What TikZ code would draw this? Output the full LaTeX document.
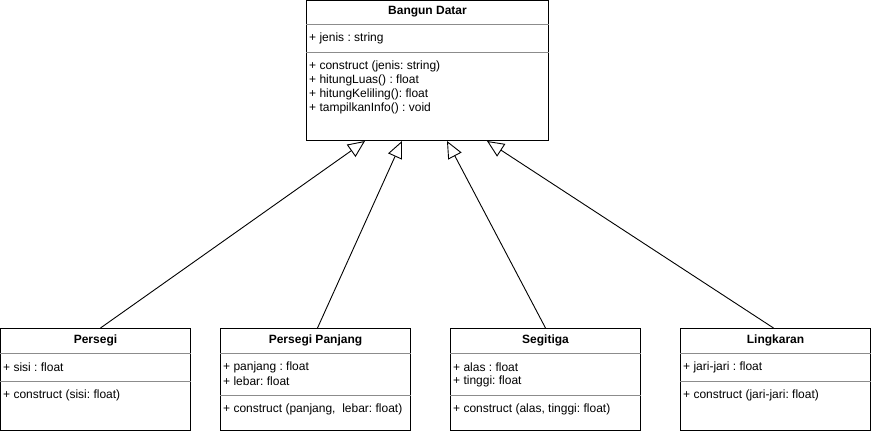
\documentclass[tikz,border=0pt]{standalone}
\usepackage{fontspec}
\setmainfont{Liberation Sans}
\usetikzlibrary{positioning}
\usetikzlibrary{arrows.meta}
\usetikzlibrary{calc}
\frenchspacing

\tikzset{
	classbox/.style={draw, line width=1pt, minimum width=190, minimum height=102, inner sep=0},
	title/.style={font=\fontsize{12}{14}\selectfont\bfseries, inner sep=0},
	member/.style={anchor=west, inner sep=0},
	divider/.style={draw=black!45, line width=1pt},
	inherit/.style={line width=.9pt, -{Triangle[open, length=17pt, width=15pt]}}
}

\begin{document}
\begin{tikzpicture}[x=1pt,y=-1pt,font=\fontsize{12}{14}\selectfont]
	\useasboundingbox (0,0) rectangle (871,431);
	%% kelas induk
	\node[classbox, anchor=north west, minimum width=242, minimum height=140] (bd) at (306,0) {};
	\node[title] (bdT) at ($(bd.north)+(0,12)$) {Bangun Datar};
	\draw[divider] ($(bd.north west)+(0,24)$) -- ($(bd.north east)+(0,24)$);
	\node[member] (bdA) at ($(bd.north west)+(3,38)$) {+ jenis : string};
	\draw[divider] ($(bd.north west)+(0,52)$) -- ($(bd.north east)+(0,52)$);
	\node[member] (bdM1) at ($(bd.north west)+(3,66)$) {+ construct (jenis: string)};
	\node[member] (bdM2) at ($(bd.north west)+(3,80)$) {+ hitungLuas() : float};
	\node[member] (bdM3) at ($(bd.north west)+(3,94)$) {+ hitungKeliling(): float};
	\node[member] (bdM4) at ($(bd.north west)+(3,108)$) {+ tampilkanInfo() : void};
	\coordinate (bd1) at ($(bd.south west)+(59,0)$);
	\coordinate (bd2) at ($(bd.south west)+(96,0)$);
	\coordinate (bd3) at ($(bd.south west)+(141,0)$);
	\coordinate (bd4) at ($(bd.south west)+(181,0)$);

	%% kelas turunan
	\node[classbox, anchor=north west] (ps) at (0,328) {};
	\node[classbox, right=29 of ps] (pp) {};
	\node[classbox, right=39 of pp] (sg) {};
	\node[classbox, right=39 of sg] (lk) {};

	% persegi
	\node[title] (psT) at ($(ps.north)+(0,12)$) {Persegi};
	\draw[divider] ($(ps.north west)+(0,25)$) -- ($(ps.north east)+(0,25)$);
	\node[member] (psA) at ($(ps.north west)+(3,39)$) {+ sisi : float};
	\draw[divider] ($(ps.north west)+(0,53)$) -- ($(ps.north east)+(0,53)$);
	\node[member] (psM) at ($(ps.north west)+(3,67)$) {+ construct (sisi: float)};

	% persegi panjang
	\node[title] (ppT) at ($(pp.north)+(0,12)$) {Persegi Panjang};
	\draw[divider] ($(pp.north west)+(0,25)$) -- ($(pp.north east)+(0,25)$);
	\node[member] (ppA1) at ($(pp.north west)+(3,39)$) {+ panjang : float};
	\node[member] (ppA2) at ($(pp.north west)+(3,53)$) {+ lebar: float};
	\draw[divider] ($(pp.north west)+(0,67)$) -- ($(pp.north east)+(0,67)$);
	\node[member] (ppM) at ($(pp.north west)+(3,81)$) {+ construct (panjang,~ lebar: float)};

	% segitiga
	\node[title] (sgT) at ($(sg.north)+(0,12)$) {Segitiga};
	\draw[divider] ($(sg.north west)+(0,25)$) -- ($(sg.north east)+(0,25)$);
	\node[member] (sgA1) at ($(sg.north west)+(3,39)$) {+ alas : float};
	\node[member] (sgA2) at ($(sg.north west)+(3,53)$) {+ tinggi: float};
	\draw[divider] ($(sg.north west)+(0,67)$) -- ($(sg.north east)+(0,67)$);
	\node[member] (sgM) at ($(sg.north west)+(3,81)$) {+ construct (alas, tinggi: float)};

	% lingkaran
	\node[title] (lkT) at ($(lk.north)+(0,12)$) {Lingkaran};
	\draw[divider] ($(lk.north west)+(0,25)$) -- ($(lk.north east)+(0,25)$);
	\node[member] (lkA) at ($(lk.north west)+(3,39)$) {+ jari-jari : float};
	\draw[divider] ($(lk.north west)+(0,53)$) -- ($(lk.north east)+(0,53)$);
	\node[member] (lkM) at ($(lk.north west)+(3,67)$) {+ construct (jari-jari: float)};

	% pewarisan
	\draw[inherit] ($(ps.north)+(5,0)$) -- (bd1);
	\draw[inherit] ($(pp.north)+(2,0)$) -- (bd2);
	\draw[inherit] (sg.north) -- (bd3);
	\draw[inherit] ($(lk.north)+(-2,0)$) -- (bd4);
\end{tikzpicture}
\end{document}
